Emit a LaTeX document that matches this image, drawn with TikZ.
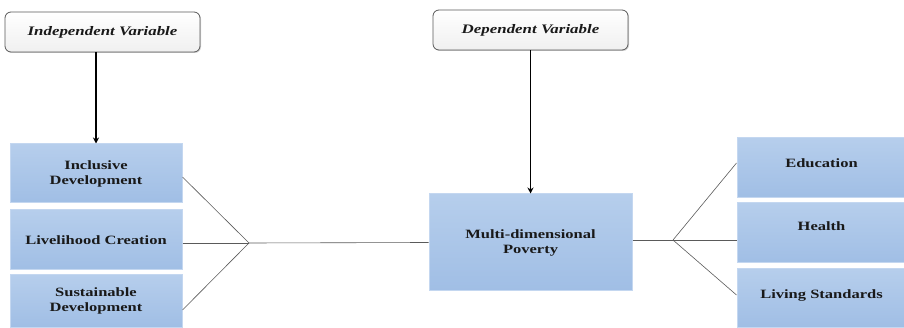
\documentclass[tikz,border=0pt]{standalone}
\usepackage{fontspec}
\setmainfont{Liberation Serif}
\newfontfamily\boxfont[FakeStretch=1.3]{Liberation Serif}
\usetikzlibrary{arrows.meta,shadows}
\definecolor{bluefillA}{RGB}{182,206,236}
\definecolor{bluefillB}{RGB}{160,190,229}
\definecolor{blueedge}{RGB}{196,215,240}
\definecolor{linegray}{RGB}{90,90,90}
\tikzset{
  varbox/.style={draw=black!65, line width=0.8pt, rounded corners=6pt,
    top color=white, bottom color=black!6,
    drop shadow={shadow xshift=1pt, shadow yshift=-1pt, opacity=0.35},
    font=\boxfont\fontsize{13}{15}\selectfont\bfseries\itshape, text=black!90,
    inner sep=0pt},
  bluebox/.style={draw=blueedge, line width=1pt, top color=bluefillA, bottom color=bluefillB,
    font=\boxfont\fontsize{12.7}{15}\selectfont\bfseries, text=black!90,
    align=center, inner sep=0pt},
  conn/.style={draw=linegray, line width=0.6pt},
  arr/.style={draw=black, line width=1.1pt, -{Stealth[length=6pt,width=6pt]}}
}
\begin{document}
\begin{tikzpicture}[x=1pt,y=-1pt]
\useasboundingbox (0,0) rectangle (904,328);
% top variable boxes
\node[varbox, minimum width=195pt, minimum height=40pt] (iv) at (102.5,32) {Independent Variable};
\node[varbox, minimum width=195pt, minimum height=40pt] (dv) at (530.5,30) {Dependent Variable};
% left boxes
\node[bluebox, minimum width=172pt, minimum height=59pt] (b1) at (96,173.5) {Inclusive\\Development};
\node[bluebox, minimum width=172pt, minimum height=60pt] (b2) at (96,240) {Livelihood Creation};
\node[bluebox, minimum width=172pt, minimum height=52pt] (b3) at (96,301) {Sustainable\\Development};
% center box
\node[bluebox, minimum width=203pt, minimum height=97pt] (mp) at (530.5,242.5) {Multi-dimensional\\Poverty};
% right boxes
\node[bluebox, minimum width=169pt, minimum height=60pt, text depth=10pt] (ed) at (821.5,168) {Education};
\node[bluebox, minimum width=169pt, minimum height=60pt, text depth=14pt] (he) at (821.5,233) {Health};
\node[bluebox, minimum width=169pt, minimum height=58pt, text depth=8pt] (ls) at (821.5,298) {Living Standards};
% junctions
\coordinate (jl) at (249,243);
\coordinate (jr) at (673,240);
% arrows
\draw[arr] (96,52) -- (b1.north -| 96,0);
\draw[arr] (dv.south) -- (mp.north);
% connectors left
\draw[conn] ([yshift=-3.5pt]b1.east) -- (jl);
\draw[conn] ([yshift=-3pt]b2.east) -- (jl);
\draw[conn] ([yshift=-9pt]b3.east) -- (jl);
\draw[conn] (jl) -- (mp.west);
% connectors right
\draw[conn] ([yshift=2.5pt]mp.east) -- (jr);
\draw[conn] (jr) -- ([yshift=5pt]ed.west);
\draw[conn] (jr) -- ([yshift=-7pt]he.west);
\draw[conn] (jr) -- ([yshift=3pt]ls.west);
\end{tikzpicture}
\end{document}
